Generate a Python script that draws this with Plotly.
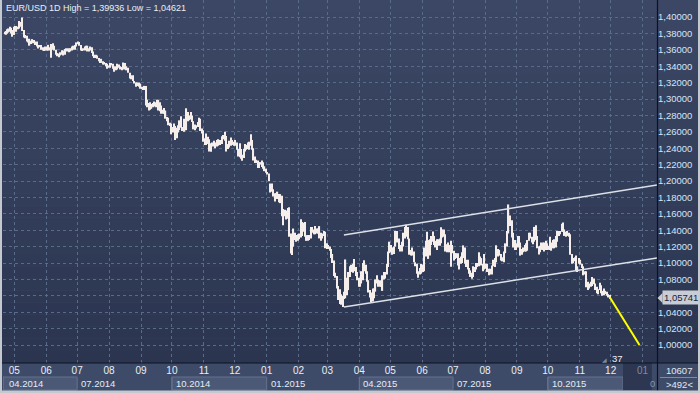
import pandas as pd
import plotly.graph_objects as go

# ---------------- daily (high, low) values ----------------
apr_2014 = [(1.3820, 1.3790), (1.3830, 1.3785), (1.3850, 1.3795), (1.3860, 1.3810), (1.3880, 1.3820),
            (1.3870, 1.3800), (1.3840, 1.3760), (1.3880, 1.3780)]
may_2014 = [(1.3890, 1.3840), (1.3890, 1.3820), (1.3880, 1.3850), (1.3950, 1.3860), (1.3940, 1.3880),
            (1.3993, 1.3830), (1.3840, 1.3750), (1.3780, 1.3740), (1.3770, 1.3700), (1.3720, 1.3690),
            (1.3735, 1.3650), (1.3710, 1.3670), (1.3730, 1.3680), (1.3720, 1.3680), (1.3700, 1.3660),
            (1.3700, 1.3640), (1.3660, 1.3615), (1.3660, 1.3630), (1.3660, 1.3600), (1.3630, 1.3590),
            (1.3620, 1.3585), (1.3640, 1.3590)]
jun_2014 = [(1.3640, 1.3590), (1.3660, 1.3590), (1.3630, 1.3590), (1.3670, 1.3503), (1.3680, 1.3600),
            (1.3650, 1.3590), (1.3600, 1.3540), (1.3560, 1.3520), (1.3555, 1.3510), (1.3570, 1.3530),
            (1.3595, 1.3540), (1.3590, 1.3530), (1.3610, 1.3540), (1.3620, 1.3580), (1.3620, 1.3580),
            (1.3610, 1.3570), (1.3620, 1.3580), (1.3640, 1.3590), (1.3650, 1.3600), (1.3660, 1.3600),
            (1.3690, 1.3640)]
jul_2014 = [(1.3700, 1.3670), (1.3695, 1.3650), (1.3660, 1.3590), (1.3610, 1.3590), (1.3620, 1.3590),
            (1.3640, 1.3590), (1.3650, 1.3600), (1.3650, 1.3580), (1.3620, 1.3580), (1.3640, 1.3590),
            (1.3630, 1.3560), (1.3580, 1.3520), (1.3540, 1.3500), (1.3540, 1.3500), (1.3530, 1.3490),
            (1.3500, 1.3460), (1.3470, 1.3440), (1.3490, 1.3440), (1.3460, 1.3420), (1.3450, 1.3420),
            (1.3440, 1.3400), (1.3430, 1.3370), (1.3410, 1.3380)]
aug_2014 = [(1.3440, 1.3380), (1.3440, 1.3410), (1.3430, 1.3370), (1.3400, 1.3333), (1.3400, 1.3350),
            (1.3430, 1.3360), (1.3420, 1.3380), (1.3400, 1.3360), (1.3390, 1.3350), (1.3445, 1.3360),
            (1.3440, 1.3360), (1.3400, 1.3350), (1.3380, 1.3320), (1.3320, 1.3250), (1.3290, 1.3240),
            (1.3290, 1.3220), (1.3220, 1.3190), (1.3200, 1.3150), (1.3200, 1.3160), (1.3200, 1.3150),
            (1.3190, 1.3125)]
sep_2014 = [(1.3150, 1.3120), (1.3140, 1.3110), (1.3160, 1.3110), (1.3160, 1.2920), (1.2990, 1.2900),
            (1.2950, 1.2860), (1.2960, 1.2870), (1.2940, 1.2880), (1.2950, 1.2900), (1.2970, 1.2910),
            (1.2960, 1.2900), (1.2990, 1.2910), (1.2990, 1.2860), (1.2960, 1.2850), (1.2920, 1.2820),
            (1.2870, 1.2820), (1.2890, 1.2820), (1.2860, 1.2760), (1.2780, 1.2730), (1.2770, 1.2680),
            (1.2710, 1.2670), (1.2700, 1.2570)]
oct_2014 = [(1.2660, 1.2590), (1.2700, 1.2610), (1.2670, 1.2500), (1.2650, 1.2520), (1.2680, 1.2590),
            (1.2740, 1.2620), (1.2790, 1.2650), (1.2660, 1.2610), (1.2760, 1.2600), (1.2690, 1.2620),
            (1.2887, 1.2620), (1.2840, 1.2730), (1.2800, 1.2740), (1.2840, 1.2750), (1.2800, 1.2720),
            (1.2730, 1.2630), (1.2690, 1.2620), (1.2680, 1.2640), (1.2720, 1.2660), (1.2770, 1.2700),
            (1.2760, 1.2610), (1.2640, 1.2580), (1.2620, 1.2480)]
nov_2014 = [(1.2520, 1.2440), (1.2580, 1.2440), (1.2540, 1.2450), (1.2510, 1.2360), (1.2460, 1.2357),
            (1.2470, 1.2420), (1.2490, 1.2420), (1.2470, 1.2400), (1.2500, 1.2420), (1.2510, 1.2430),
            (1.2500, 1.2440), (1.2545, 1.2450), (1.2560, 1.2510), (1.2600, 1.2490), (1.2550, 1.2360),
            (1.2450, 1.2390), (1.2490, 1.2410), (1.2530, 1.2430), (1.2500, 1.2440), (1.2480, 1.2430)]
dec_2014 = [(1.2500, 1.2430), (1.2470, 1.2380), (1.2390, 1.2300), (1.2460, 1.2290), (1.2390, 1.2270),
            (1.2320, 1.2247), (1.2390, 1.2280), (1.2450, 1.2360), (1.2440, 1.2380), (1.2470, 1.2390),
            (1.2480, 1.2380), (1.2570, 1.2430), (1.2500, 1.2380), (1.2400, 1.2250), (1.2300, 1.2220),
            (1.2260, 1.2220), (1.2250, 1.2160), (1.2230, 1.2160), (1.2230, 1.2200), (1.2250, 1.2170),
            (1.2230, 1.2150), (1.2180, 1.2120), (1.2150, 1.2100)]
jan_2015 = [(1.2110, 1.2080), (1.2090, 1.2000), (1.1970, 1.1860), (1.1970, 1.1870), (1.1900, 1.1810),
            (1.1850, 1.1750), (1.1850, 1.1780), (1.1870, 1.1780), (1.1840, 1.1740), (1.1840, 1.1730),
            (1.1820, 1.1570), (1.1660, 1.1460), (1.1650, 1.1570), (1.1640, 1.1530), (1.1670, 1.1540),
            (1.1680, 1.1320), (1.1360, 1.1115), (1.1270, 1.1098), (1.1420, 1.1200), (1.1370, 1.1280),
            (1.1340, 1.1260), (1.1350, 1.1270)]
feb_2015 = [(1.1360, 1.1290), (1.1535, 1.1310), (1.1500, 1.1330), (1.1490, 1.1380), (1.1500, 1.1320),
            (1.1340, 1.1270), (1.1340, 1.1270), (1.1340, 1.1280), (1.1440, 1.1300), (1.1440, 1.1370),
            (1.1410, 1.1350), (1.1450, 1.1350), (1.1420, 1.1360), (1.1420, 1.1360), (1.1450, 1.1300),
            (1.1370, 1.1270), (1.1360, 1.1300), (1.1390, 1.1330), (1.1380, 1.1180), (1.1240, 1.1170)]
mar_2015 = [(1.1220, 1.1170), (1.1200, 1.1150), (1.1170, 1.1060), (1.1110, 1.1000), (1.1030, 1.0840),
            (1.0880, 1.0820), (1.0840, 1.0690), (1.0720, 1.0550), (1.0680, 1.0500), (1.0620, 1.0490),
            (1.0600, 1.0462), (1.0650, 1.0560), (1.1043, 1.0570), (1.0820, 1.0610), (1.0890, 1.0670),
            (1.0960, 1.0830), (1.0980, 1.0890), (1.0990, 1.0880), (1.1050, 1.0900), (1.0950, 1.0840),
            (1.0890, 1.0790), (1.0820, 1.0710)]
apr_2015 = [(1.0790, 1.0710), (1.0900, 1.0750), (1.1000, 1.0790), (1.1035, 1.0900), (1.0980, 1.0870),
            (1.0900, 1.0770), (1.0790, 1.0640), (1.0670, 1.0580), (1.0640, 1.0520), (1.0690, 1.0530),
            (1.0690, 1.0570), (1.0800, 1.0650), (1.0850, 1.0750), (1.0800, 1.0710), (1.0790, 1.0710),
            (1.0780, 1.0710), (1.0850, 1.0660), (1.0890, 1.0800), (1.0890, 1.0810), (1.0990, 1.0860),
            (1.1140, 1.0950), (1.1260, 1.1120)]
may_2015 = [(1.1220, 1.1130), (1.1190, 1.1100), (1.1200, 1.1110), (1.1390, 1.1200), (1.1390, 1.1250),
            (1.1300, 1.1170), (1.1220, 1.1140), (1.1260, 1.1140), (1.1370, 1.1200), (1.1440, 1.1300),
            (1.1467, 1.1320), (1.1440, 1.1290), (1.1300, 1.1100), (1.1160, 1.1090), (1.1190, 1.1090),
            (1.1140, 1.1010), (1.1010, 1.0960), (1.0990, 1.0870), (1.0900, 1.0819), (1.0940, 1.0860),
            (1.0990, 1.0870)]
jun_2015 = [(1.0980, 1.0890), (1.1190, 1.0900), (1.1270, 1.1080), (1.1380, 1.1200), (1.1280, 1.1050),
            (1.1290, 1.1090), (1.1330, 1.1220), (1.1385, 1.1260), (1.1330, 1.1220), (1.1270, 1.1190),
            (1.1290, 1.1160), (1.1290, 1.1210), (1.1300, 1.1210), (1.1435, 1.1240), (1.1410, 1.1310),
            (1.1410, 1.1320), (1.1350, 1.1140), (1.1230, 1.1130), (1.1250, 1.1160), (1.1220, 1.1130),
            (1.1270, 1.0955), (1.1220, 1.1120)]
jul_2015 = [(1.1150, 1.1030), (1.1120, 1.1050), (1.1120, 1.1060), (1.1120, 1.0970), (1.1060, 1.0920),
            (1.1080, 1.0990), (1.1130, 1.1000), (1.1215, 1.1060), (1.1190, 1.0990), (1.1040, 1.0950),
            (1.1040, 1.0920), (1.0940, 1.0870), (1.0910, 1.0830), (1.0880, 1.0809), (1.0960, 1.0830),
            (1.0950, 1.0890), (1.1000, 1.0920), (1.1000, 1.0950), (1.1130, 1.0960), (1.1080, 1.1020),
            (1.1060, 1.0970), (1.0990, 1.0900), (1.1110, 1.0920)]
aug_2015 = [(1.0990, 1.0930), (1.0990, 1.0890), (1.0930, 1.0850), (1.0930, 1.0860), (1.0970, 1.0860),
            (1.1040, 1.0960), (1.1060, 1.0950), (1.1215, 1.1010), (1.1170, 1.1080), (1.1160, 1.1090),
            (1.1110, 1.1030), (1.1070, 1.1020), (1.1140, 1.1010), (1.1240, 1.1120), (1.1390, 1.1200),
            (1.1714, 1.1360), (1.1580, 1.1450), (1.1520, 1.1310), (1.1370, 1.1190), (1.1280, 1.1160),
            (1.1240, 1.1160)]
sep_2015 = [(1.1330, 1.1190), (1.1330, 1.1210), (1.1250, 1.1090), (1.1170, 1.1100), (1.1190, 1.1130),
            (1.1220, 1.1140), (1.1240, 1.1140), (1.1280, 1.1150), (1.1370, 1.1270), (1.1370, 1.1300),
            (1.1320, 1.1250), (1.1300, 1.1230), (1.1440, 1.1260), (1.1460, 1.1280), (1.1330, 1.1180),
            (1.1200, 1.1105), (1.1210, 1.1130), (1.1250, 1.1160), (1.1250, 1.1160), (1.1250, 1.1140),
            (1.1270, 1.1160), (1.1240, 1.1160)]
oct_2015 = [(1.1210, 1.1160), (1.1320, 1.1160), (1.1250, 1.1150), (1.1280, 1.1180), (1.1290, 1.1180),
            (1.1330, 1.1190), (1.1390, 1.1260), (1.1390, 1.1330), (1.1390, 1.1350), (1.1480, 1.1380),
            (1.1495, 1.1380), (1.1410, 1.1330), (1.1380, 1.1320), (1.1390, 1.1330), (1.1370, 1.1320),
            (1.1350, 1.1100), (1.1110, 1.0990), (1.1060, 1.1000), (1.1070, 1.1020), (1.1090, 1.0900),
            (1.0960, 1.0890), (1.1060, 1.0990)]
nov_2015 = [(1.1040, 1.0980), (1.0990, 1.0940), (1.0960, 1.0850), (1.0900, 1.0860), (1.0900, 1.0705),
            (1.0770, 1.0670), (1.0750, 1.0690), (1.0770, 1.0710), (1.0830, 1.0720), (1.0810, 1.0740),
            (1.0750, 1.0670), (1.0710, 1.0630), (1.0680, 1.0620), (1.0760, 1.0670), (1.0730, 1.0630),
            (1.0660, 1.0600), (1.0690, 1.0610), (1.0660, 1.0620), (1.0650, 1.0600), (1.0620, 1.0580),
            (1.0610, 1.0565)]

periods = [
    ("2014-04-21", "2014-05-01", apr_2014), ("2014-05-01", "2014-06-01", may_2014),
    ("2014-06-01", "2014-07-01", jun_2014), ("2014-07-01", "2014-08-01", jul_2014),
    ("2014-08-01", "2014-09-01", aug_2014), ("2014-09-01", "2014-10-01", sep_2014),
    ("2014-10-01", "2014-11-01", oct_2014), ("2014-11-01", "2014-12-01", nov_2014),
    ("2014-12-01", "2015-01-01", dec_2014), ("2015-01-01", "2015-02-01", jan_2015),
    ("2015-02-01", "2015-03-01", feb_2015), ("2015-03-01", "2015-04-01", mar_2015),
    ("2015-04-01", "2015-05-01", apr_2015), ("2015-05-01", "2015-06-01", may_2015),
    ("2015-06-01", "2015-07-01", jun_2015), ("2015-07-01", "2015-08-01", jul_2015),
    ("2015-08-01", "2015-09-01", aug_2015), ("2015-09-01", "2015-10-01", sep_2015),
    ("2015-10-01", "2015-11-01", oct_2015), ("2015-11-01", "2015-12-01", nov_2015),
]

y_ticks = [1.00, 1.02, 1.04, 1.06, 1.08, 1.10, 1.12, 1.14, 1.16, 1.18, 1.20,
           1.22, 1.24, 1.26, 1.28, 1.30, 1.32, 1.34, 1.36, 1.38, 1.40]
month_starts = list(pd.date_range("2014-05-01", "2016-01-01", freq="MS"))
month_labels = [d.strftime("%m") for d in month_starts]
quarter_starts = ["2014-04-20", "2014-07-01", "2014-10-01", "2015-01-01",
                  "2015-04-01", "2015-07-01", "2015-10-01", "2015-12-13"]
quarter_labels = ["04.2014", "07.2014", "10.2014", "01.2015", "04.2015", "07.2015", "10.2015"]

channel_x = ["2015-03-17", "2016-01-15"]
channel_upper = [1.1341, 1.1951]
channel_lower = [1.0463, 1.1061]
proj_x = ["2015-11-30", "2015-12-29"]
proj_y = [1.0585, 1.0000]
last_price = 1.05741
title_text = "EUR/USD 1D High = 1,39936 Low = 1,04621"

X_RANGE = ["2014-04-20", "2016-01-15"]
Y_RANGE = [0.97805, 1.42073]

# ---------------- build bars ----------------
bar_x, bar_low, bar_len = [], [], []
for s, e, bars in periods:
    t0, t1 = pd.Timestamp(s), pd.Timestamp(e)
    step = (t1 - t0) / len(bars)
    for i, (hi, lo) in enumerate(bars):
        bar_x.append(t0 + step * (i + 0.5))
        bar_low.append(lo)
        bar_len.append(hi - lo)

# y tick labels with decimal comma; the one under the price marker is hidden by it
y_ticktext = [("%.5f" % v).replace(".", ",") if abs(v - last_price) > 0.008 else "" for v in y_ticks]

W, H = 700, 393
L, R, T, B = 3, 43, 0, 30
PW, PH = W - L - R, H - T - B
FONT = "Liberation Sans, Arial, sans-serif"


def px_x(p):
    return (p - L) / PW


def px_y(p):
    return (T + PH - p) / PH


fig = go.Figure()
fig.add_trace(go.Bar(x=bar_x, base=bar_low, y=bar_len, width=1.15 * 86400000,
                     marker=dict(color="#f5eeea", line=dict(width=0)),
                     hoverinfo="skip", showlegend=False))
fig.add_trace(go.Scatter(x=channel_x, y=channel_upper, mode="lines",
                         line=dict(color="#dde1e8", width=1.5), showlegend=False, hoverinfo="skip"))
fig.add_trace(go.Scatter(x=channel_x, y=channel_lower, mode="lines",
                         line=dict(color="#dde1e8", width=1.5), showlegend=False, hoverinfo="skip"))
fig.add_trace(go.Scatter(x=proj_x, y=proj_y, mode="lines",
                         line=dict(color="#ffff00", width=2), showlegend=False, hoverinfo="skip"))

shapes = []
top_c = (59, 71, 100)
bot_c = (43, 53, 80)
n_bands = 30
for k in range(n_bands):
    f = k / (n_bands - 1)
    c = tuple(round(top_c[j] + (bot_c[j] - top_c[j]) * f) for j in range(3))
    shapes.append(dict(type="rect", xref="paper", yref="paper", layer="below",
                       x0=px_x(0), x1=px_x(W), y0=1 - (k + 1) / n_bands, y1=1 - k / n_bands,
                       fillcolor="rgb(%d,%d,%d)" % c, line=dict(width=0)))
for q in range(len(quarter_labels)):
    light = q % 2 == 0
    shapes.append(dict(type="rect", xref="x", yref="paper", layer="below",
                       x0=quarter_starts[q], x1=quarter_starts[q + 1],
                       y0=px_y(390), y1=px_y(377),
                       fillcolor="#4b5977" if light else "#3e4b68",
                       line=dict(color="#65738f" if light else "#3e4b68", width=1)))
    shapes.append(dict(type="line", xref="x", yref="paper", layer="below",
                       x0=quarter_starts[q], x1=quarter_starts[q],
                       y0=px_y(390), y1=px_y(377), line=dict(color="#65738f", width=1)))
shapes.append(dict(type="rect", xref="x", yref="paper", layer="below",
                   x0=quarter_starts[-1], x1="2016-01-10", y0=px_y(390), y1=px_y(363),
                   fillcolor="#2d3751", line=dict(width=0)))
shapes.append(dict(type="line", xref="paper", yref="paper", layer="above",
                   x0=px_x(0), x1=px_x(W), y0=0, y1=0, line=dict(color="#0c1220", width=1.2)))
shapes.append(dict(type="line", xref="paper", yref="paper", layer="above",
                   x0=1 + 0.5 / PW, x1=1 + 0.5 / PW, y0=px_y(H), y1=1, line=dict(color="#0c1220", width=1.2)))
shapes.append(dict(type="line", xref="paper", yref="paper", layer="above",
                   x0=px_x(660), x1=px_x(697), y0=px_y(377.5), y1=px_y(377.5), line=dict(color="#7d8aa3", width=1)))
shapes.append(dict(type="rect", xref="paper", yref="paper", layer="above",
                   x0=px_x(0), x1=px_x(2), y0=px_y(H), y1=px_y(0), fillcolor="#c4c8cf", line=dict(width=0)))
shapes.append(dict(type="rect", xref="paper", yref="paper", layer="above",
                   x0=px_x(0), x1=px_x(W), y0=px_y(H), y1=px_y(390.5), fillcolor="#c4c8cf", line=dict(width=0)))
shapes.append(dict(type="rect", xref="paper", yref="paper", layer="above",
                   x0=px_x(698), x1=px_x(W), y0=px_y(H), y1=px_y(0), fillcolor="#c4c8cf", line=dict(width=0)))
d = 5.0 / 820
shapes.append(dict(type="path", xref="paper", yref="y", layer="above",
                   path="M %f,%f L %f,%f L %f,%f Z" % (px_x(657.5), last_price, px_x(662.5), last_price + d,
                                                       px_x(662.5), last_price - d),
                   fillcolor="#c8cdd5", line=dict(width=0)))

annotations = [
    dict(text=title_text, xref="paper", yref="paper", x=px_x(4), y=px_y(8), xanchor="left", yanchor="middle",
         showarrow=False, font=dict(family=FONT, size=9, color="#e8eef6")),
    dict(text=("%.5f" % last_price).replace(".", ","), xref="paper", yref="y", x=px_x(662), y=last_price,
         xanchor="left", yanchor="middle", showarrow=False, bgcolor="#c8cdd5", borderpad=1,
         font=dict(family=FONT, size=9.5, color="#17233a")),
    dict(text="10607", xref="paper", yref="paper", x=px_x(679), y=px_y(370.5), xanchor="center", yanchor="middle",
         showarrow=False, font=dict(family=FONT, size=9.5, color="#e0e8f4")),
    dict(text="&gt;492&lt;", xref="paper", yref="paper", x=px_x(679), y=px_y(384), xanchor="center",
         yanchor="middle", showarrow=False, font=dict(family=FONT, size=9.5, color="#e0e8f4")),
    dict(text="37", xref="paper", yref="paper", x=px_x(617), y=px_y(358), xanchor="center", yanchor="middle",
         showarrow=False, font=dict(family=FONT, size=9.5, color="#eef2f8")),
    dict(text="◢", xref="paper", yref="paper", x=px_x(604), y=px_y(359), xanchor="center", yanchor="middle",
         showarrow=False, font=dict(family="DejaVu Sans", size=6, color="#7d899e")),
    dict(text="0", xref="paper", yref="paper", x=px_x(652), y=px_y(383), xanchor="center", yanchor="middle",
         showarrow=False, font=dict(family=FONT, size=9.5, color="#8793a9")),
]
for q, lab in enumerate(quarter_labels):
    annotations.append(dict(text=lab, xref="x", yref="paper", x=quarter_starts[q] if q else "2014-04-22",
                            y=px_y(383.5), xanchor="left", yanchor="middle", xshift=2, showarrow=False,
                            font=dict(family=FONT, size=9.5, color="#e6ecf4")))

tick_text = [m if i < len(month_labels) - 1 else "<span style='color:#7f8ba2'>%s</span>" % m
             for i, m in enumerate(month_labels)]

fig.update_layout(
    width=W, height=H, margin=dict(l=L, r=R, t=T, b=B, pad=0),
    paper_bgcolor="#3e4b68", plot_bgcolor="rgba(0,0,0,0)",
    barmode="overlay", showlegend=False,
    font=dict(family=FONT, size=10, color="#e6ecf4"),
    shapes=shapes, annotations=annotations,
    xaxis=dict(type="date", range=X_RANGE, tickvals=month_starts, ticktext=tick_text,
               showgrid=True, gridcolor="#5a6a89", griddash="3px,3px", gridwidth=1,
               ticks="", showline=False, zeroline=False, fixedrange=True,
               tickfont=dict(family=FONT, size=10, color="#e8eef6")),
    yaxis=dict(side="right", range=Y_RANGE, tickvals=y_ticks, ticktext=y_ticktext,
               showgrid=True, gridcolor="#5a6a89", griddash="3px,3px", gridwidth=1,
               ticks="", showline=False, zeroline=False, fixedrange=True,
               tickfont=dict(family=FONT, size=9.5, color="#d6e4f6")),
)

fig.write_html("out.html", config={"displayModeBar": False},
               post_script="document.body.style.margin='0';document.body.style.overflow='hidden';")
